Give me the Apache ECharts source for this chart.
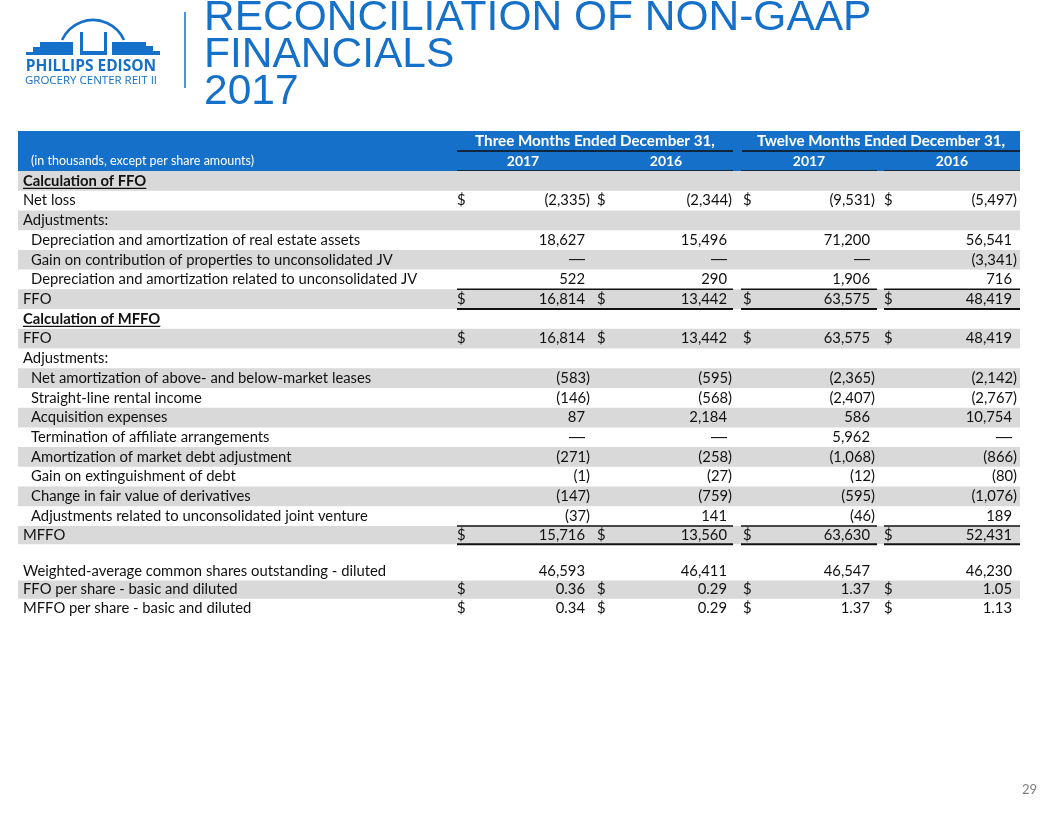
<!DOCTYPE html>
<html><head><meta charset="utf-8">
<script src="https://cdn.jsdelivr.net/npm/echarts@6/dist/echarts.min.js"></script>
<style>html,body{margin:0;padding:0;background:#fff}#c{width:1056px;height:816px}</style>
</head><body><div id="c"></div>
<script>
// ---------- DATA ----------
const titleLines = ["RECONCILIATION OF NON-GAAP", "FINANCIALS", "2017"];
const logoName = "PHILLIPS EDISON";
const logoSub = "GROCERY CENTER REIT II";
const unitsNote = "(in thousands, except per share amounts)";
const periodHeaders = ["Three Months Ended December 31,", "Twelve Months Ended December 31,"];
const yearHeaders = ["2017", "2016", "2017", "2016"];
const pageNumber = "29";

const rowLabels = [
  "Calculation of FFO",
  "Net loss",
  "Adjustments:",
  "Depreciation and amortization of real estate assets",
  "Gain on contribution of properties to unconsolidated JV",
  "Depreciation and amortization related to unconsolidated JV",
  "FFO",
  "Calculation of MFFO",
  "FFO",
  "Adjustments:",
  "Net amortization of above- and below-market leases",
  "Straight-line rental income",
  "Acquisition expenses",
  "Termination of affiliate arrangements",
  "Amortization of market debt adjustment",
  "Gain on extinguishment of debt",
  "Change in fair value of derivatives",
  "Adjustments related to unconsolidated joint venture",
  "MFFO",
  "",
  "Weighted-average common shares outstanding - diluted",
  "FFO per share - basic and diluted",
  "MFFO per share - basic and diluted"
];
const rowIndent   = [0,0,0,1,1,1,0,0,0,0,1,1,1,1,1,1,1,1,0,0,0,0,0];
const rowSection  = [1,0,0,0,0,0,0,1,0,0,0,0,0,0,0,0,0,0,0,0,0,0,0];
const rowTotal    = [0,0,0,0,0,0,1,0,0,0,0,0,0,0,0,0,0,0,1,0,0,0,0];
const rowDollar   = [0,1,0,0,0,0,1,0,1,0,0,0,0,0,0,0,0,0,1,0,0,1,1];
const rowPerShare = [0,0,0,0,0,0,0,0,0,0,0,0,0,0,0,0,0,0,0,0,0,1,1];
const rowShaded   = [1,0,1,0,1,0,1,0,1,0,1,0,1,0,1,0,1,0,1,0,0,1,0];

const threeMonths2017  = [null,-2335,null,18627,0,522,16814,null,16814,null,-583,-146,87,0,-271,-1,-147,-37,15716,null,46593,0.36,0.34];
const threeMonths2016  = [null,-2344,null,15496,0,290,13442,null,13442,null,-595,-568,2184,0,-258,-27,-759,141,13560,null,46411,0.29,0.29];
const twelveMonths2017 = [null,-9531,null,71200,0,1906,63575,null,63575,null,-2365,-2407,586,5962,-1068,-12,-595,-46,63630,null,46547,1.37,1.37];
const twelveMonths2016 = [null,-5497,null,56541,-3341,716,48419,null,48419,null,-2142,-2767,10754,0,-866,-80,-1076,189,52431,null,46230,1.05,1.13];
const valueColumns = [threeMonths2017, threeMonths2016, twelveMonths2017, twelveMonths2016];

// ---------- LAYOUT / STYLE ----------
const BLUE = '#1570c9';
const GRAY = '#d9d9d9';
const INK = '#111111';
const BODY_FONT = 'Lato';
const FS = 14.8;
const L = {
  tableLeft: 18, tableRight: 1020,
  labelX: 23, indentX: 31,
  dollarX: [457, 597, 743, 884],
  rightX: [590, 732, 875, 1017],
  parenPad: 5,
  groupSpans: [[457, 733], [742, 1020]],
  colSpans: [[457, 733], [741, 877], [884, 1020]],
  yearCenters: [523, 666, 809, 952]
};
// table bands: header, main body, closing block
const GRIDS = [
  { top: 131, height: 40 },
  { top: 171, height: 355 },
  { top: 526, height: 91 }
];
const bandRows = [[0, 18], [18, 23]];

function fmt(v, perShare) {
  if (v === null || v === undefined) return '';
  if (v === 0) return '\u2014';
  if (perShare) return v.toFixed(2);
  const s = Math.abs(v).toLocaleString('en-US');
  return v < 0 ? '(' + s + ')' : s;
}

const measureCtx = document.createElement('canvas').getContext('2d');
function textWidth(t, font) { measureCtx.font = font; return measureCtx.measureText(t).width; }

function txt(x, y, text, opts) {
  return {
    type: 'text', x: x, y: y,
    style: Object.assign({
      text: text, fill: INK, fontSize: FS, fontFamily: BODY_FONT,
      textAlign: 'left', textVerticalAlign: 'middle', align: 'left', verticalAlign: 'middle'
    }, opts || {})
  };
}
function hline(x1, x2, y, color, w) {
  return { type: 'line', shape: { x1: x1, y1: y, x2: x2, y2: y }, style: { stroke: color, lineWidth: w } };
}

function renderHeader(params, api) {
  const h = api.size([0, 1])[1];
  const y0 = api.coord([0, 0])[1];
  const y1 = api.coord([0, 1])[1];
  const X = v => api.coord([v, 0])[0];
  const top = y0 - h / 2, mid = y0 + h / 2, bottom = y1 + h / 2;
  const ch = [];
  ch.push({ type: 'rect', shape: { x: X(L.tableLeft), y: top, width: X(L.tableRight) - X(L.tableLeft), height: bottom - top }, style: { fill: BLUE } });
  periodHeaders.forEach((t, k) => {
    const s = L.groupSpans[k];
    ch.push(txt((X(s[0]) + X(s[1])) / 2, y0 + 0.5, t, { fill: '#fff', fontWeight: 'bold', fontSize: 15.2, textAlign: 'center', align: 'center' }));
    ch.push(hline(X(s[0]), X(s[1]), mid, '#10263d', 2));
  });
  yearHeaders.forEach((t, k) => {
    ch.push(txt(X(L.yearCenters[k]), y1, t, { fill: '#fff', fontWeight: 'bold', fontSize: 14, textAlign: 'center', align: 'center' }));
  });
  ch.push(txt(X(L.indentX), y1, unitsNote, { fill: '#fff', fontSize: 12.5 }));
  L.colSpans.forEach(s => ch.push(hline(X(s[0]), X(s[1]), bottom, '#10263d', 2)));
  return { type: 'group', children: ch };
}

function renderRow(params, api) {
  const cat = api.value(1);
  const i = api.value(2);
  const h = api.size([0, 1])[1];
  const yc = api.coord([0, cat])[1];
  const X = v => api.coord([v, cat])[0];
  const top = yc - h / 2, bottom = yc + h / 2;
  const ch = [];
  if (rowShaded[i]) {
    ch.push({ type: 'rect', shape: { x: X(L.tableLeft), y: top, width: X(L.tableRight) - X(L.tableLeft), height: h }, style: { fill: GRAY } });
  }
  const lx = X(rowIndent[i] ? L.indentX : L.labelX);
  if (rowLabels[i]) {
    if (rowSection[i]) {
      const font = 'bold ' + FS + 'px ' + BODY_FONT;
      ch.push(txt(lx, yc, rowLabels[i], { fontWeight: 'bold' }));
      const w = textWidth(rowLabels[i], font);
      ch.push(hline(lx, lx + w, yc + 7.5, INK, 1.3));
    } else {
      ch.push(txt(lx, yc, rowLabels[i]));
    }
  }
  valueColumns.forEach((col, k) => {
    const v = col[i];
    if (v === null) return;
    const s = fmt(v, rowPerShare[i]);
    const rx = X(L.rightX[k]) - (v < 0 ? 0 : L.parenPad);
    if (v === 0) {
      ch.push(txt(rx, yc, s, { textAlign: 'right', align: 'right', fontFamily: 'Liberation Sans', fontSize: 16 }));
    } else {
      ch.push(txt(rx, yc, s, { textAlign: 'right', align: 'right' }));
    }
    if (rowDollar[i]) ch.push(txt(X(L.dollarX[k]), yc, '$'));
  });
  if (rowTotal[i]) {
    L.colSpans.forEach(s => {
      ch.push(hline(X(s[0]), X(s[1]), top, INK, 1.5));
      ch.push(hline(X(s[0]), X(s[1]), bottom, INK, 2));
    });
  }
  return { type: 'group', children: ch };
}

// logo geometry (decorative)
const logoGraphics = [
  { type: 'arc', shape: { cx: 93, cy: 54, r: 34, startAngle: Math.PI * 1.135, endAngle: Math.PI * 1.865 }, style: { stroke: BLUE, lineWidth: 2.6, fill: null } },
  { type: 'polygon', shape: { points: [[26,55],[26,52],[33,52],[33,47],[40,47],[40,42],[73,42],[73,55]] }, style: { fill: BLUE } },
  { type: 'polygon', shape: { points: [[80,32],[83,32],[83,51],[104,51],[104,32],[107,32],[107,55],[80,55]] }, style: { fill: BLUE } },
  { type: 'polygon', shape: { points: [[112,42],[146,42],[146,46],[153,46],[153,51],[160,51],[160,55],[112,55]] }, style: { fill: BLUE } },
  { type: 'text', x: 91, y: 67, style: { text: logoName, fill: BLUE, fontSize: 15.5, fontWeight: 'bold', fontFamily: 'Open Sans', textAlign: 'center', align: 'center', textVerticalAlign: 'middle', verticalAlign: 'middle' } },
  { type: 'text', x: 91, y: 81, style: { text: logoSub, fill: BLUE, fontSize: 11.5, fontFamily: 'Open Sans', textAlign: 'center', align: 'center', textVerticalAlign: 'middle', verticalAlign: 'middle' } },
  { type: 'line', shape: { x1: 185, y1: 12, x2: 185, y2: 88 }, style: { stroke: BLUE, lineWidth: 1.5 } }
];
const titleGraphics = titleLines.map((t, k) => ({
  type: 'text', x: 204, y: 18.5 + 37 * k,
  style: { text: t, fill: BLUE, fontSize: 42.5, fontFamily: 'Liberation Sans', textAlign: 'left', align: 'left', textVerticalAlign: 'middle', verticalAlign: 'middle' }
}));
const pageGraphic = { type: 'text', x: 1037, y: 790, style: { text: pageNumber, fill: '#7f7f7f', fontSize: 13, fontFamily: 'Lato', textAlign: 'right', align: 'right', textVerticalAlign: 'middle', verticalAlign: 'middle' } };

const headerCats = ['h0', 'h1'];
const bandCats = bandRows.map(r => rowLabels.slice(r[0], r[1]).map((_, j) => 'r' + (r[0] + j)));
const bandData = bandRows.map(r => rowLabels.slice(r[0], r[1]).map((_, j) => [0, j, r[0] + j]));

const chart = echarts.init(document.getElementById('c'), null, { renderer: 'canvas' });
chart.setOption({
  animation: false,
  backgroundColor: '#ffffff',
  grid: GRIDS.map(g => ({ left: 0, right: 0, top: g.top, height: g.height })),
  xAxis: GRIDS.map((g, k) => ({ type: 'value', min: 0, max: 1056, show: false, gridIndex: k })),
  yAxis: [
    { type: 'category', data: headerCats, inverse: true, show: false, gridIndex: 0 },
    { type: 'category', data: bandCats[0], inverse: true, show: false, gridIndex: 1 },
    { type: 'category', data: bandCats[1], inverse: true, show: false, gridIndex: 2 }
  ],
  graphic: logoGraphics.concat(titleGraphics, [pageGraphic]),
  series: [
    { type: 'custom', renderItem: renderHeader, data: [[0, 0]], xAxisIndex: 0, yAxisIndex: 0, silent: true, z: 2 },
    { type: 'custom', renderItem: renderRow, data: bandData[0], xAxisIndex: 1, yAxisIndex: 1, silent: true, z: 3 },
    { type: 'custom', renderItem: renderRow, data: bandData[1], xAxisIndex: 2, yAxisIndex: 2, silent: true, z: 3 }
  ]
});
</script></body></html>
